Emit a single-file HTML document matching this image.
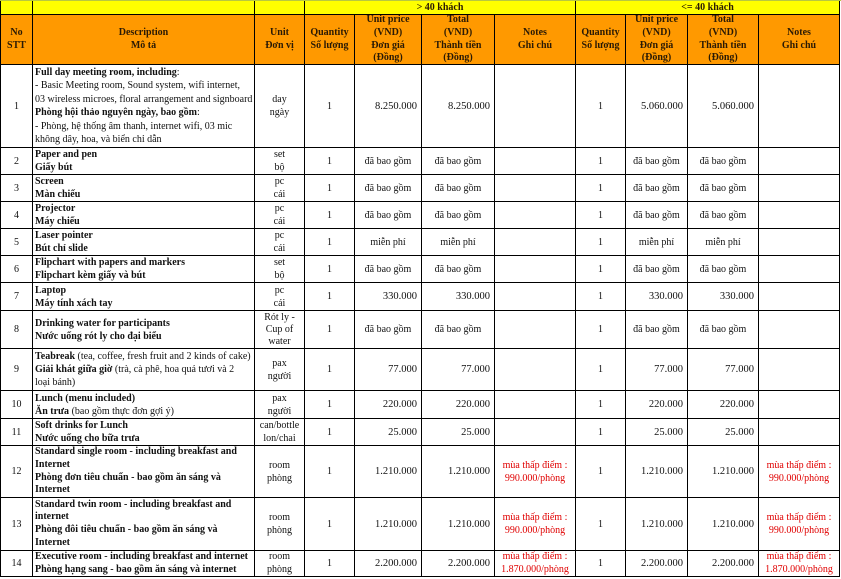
<!DOCTYPE html>
<html><head><meta charset="utf-8">
<style>
*{margin:0;padding:0;box-sizing:border-box}
html,body{width:841px;height:579px;background:#fff;overflow:hidden}
body{font-family:"Liberation Serif","Noto Serif CJK SC",serif;color:#111;font-size:10px}
.g{position:absolute;left:0;top:0;width:840px;height:577px;padding:1px;background:#000;display:grid;
grid-template-columns:31px 221px 49px 49px 66px 72px 80px 49px 61px 70px 80px;
grid-template-rows:13px 49px 82px 26px 26px 26px 26px 26px 27px 37px 41px 27px 26px 51px 52px 25px;gap:1px}
.g>div{background:#fff;overflow:hidden;display:flex;flex-direction:column;justify-content:center;line-height:13px;white-space:nowrap}
.y{background:#ffff00 !important;font-weight:bold;align-items:center;color:#2a1a05;line-height:12px !important}
.h{background:#ff9900 !important;font-weight:bold;align-items:center;text-align:center;color:#2a1a05;line-height:12.7px !important}
.c{align-items:center;text-align:center}
.r{align-items:flex-end;padding-right:4px;font-size:10.5px}
.d{padding-left:2px;align-items:flex-start}
.d b{font-weight:bold}
.n{color:#e00000;align-items:center;text-align:center}
.top{position:absolute;left:0;top:0;width:841px;height:1px;background:#b8c840}
</style></head><body>
<div class="g">
<div class="y"></div><div class="y"></div><div class="y"></div>
<div class="y" style="grid-column:span 4">&gt; 40 khách</div>
<div class="y" style="grid-column:span 4">&lt;= 40 khách</div>

<div class="h">No<br>STT</div>
<div class="h">Description<br>Mô tả</div>
<div class="h">Unit<br>Đơn vị</div>
<div class="h">Quantity<br>Số lượng</div>
<div class="h">Unit price<br>(VND)<br>Đơn giá<br>(Đồng)</div>
<div class="h">Total<br>(VND)<br>Thành tiền<br>(Đồng)</div>
<div class="h">Notes<br>Ghi chú</div>
<div class="h">Quantity<br>Số lượng</div>
<div class="h">Unit price<br>(VND)<br>Đơn giá<br>(Đồng)</div>
<div class="h">Total<br>(VND)<br>Thành tiền<br>(Đồng)</div>
<div class="h">Notes<br>Ghi chú</div>

<!-- 1 -->
<div class="c">1</div>
<div class="d" style="line-height:13.5px"><span><b>Full day meeting room, including</b>:<br>- Basic Meeting room, Sound system, wifi internet,<br>03 wireless microes, floral arrangement and signboard<br><b>Phòng hội thảo nguyên ngày, bao gồm</b>:<br>- Phòng, hệ thống âm thanh, internet wifi, 03 mic<br>không dây, hoa, và biển chỉ dẫn</span></div>
<div class="c">day<br>ngày</div>
<div class="c">1</div><div class="r">8.250.000</div><div class="r">8.250.000</div><div></div>
<div class="c">1</div><div class="r">5.060.000</div><div class="r">5.060.000</div><div></div>

<!-- 2 -->
<div class="c">2</div>
<div class="d"><b>Paper and pen<br>Giấy bút</b></div>
<div class="c">set<br>bộ</div>
<div class="c">1</div><div class="c">đã bao gồm</div><div class="c">đã bao gồm</div><div></div>
<div class="c">1</div><div class="c">đã bao gồm</div><div class="c">đã bao gồm</div><div></div>

<!-- 3 -->
<div class="c">3</div>
<div class="d"><b>Screen<br>Màn chiếu</b></div>
<div class="c">pc<br>cái</div>
<div class="c">1</div><div class="c">đã bao gồm</div><div class="c">đã bao gồm</div><div></div>
<div class="c">1</div><div class="c">đã bao gồm</div><div class="c">đã bao gồm</div><div></div>

<!-- 4 -->
<div class="c">4</div>
<div class="d"><b>Projector<br>Máy chiếu</b></div>
<div class="c">pc<br>cái</div>
<div class="c">1</div><div class="c">đã bao gồm</div><div class="c">đã bao gồm</div><div></div>
<div class="c">1</div><div class="c">đã bao gồm</div><div class="c">đã bao gồm</div><div></div>

<!-- 5 -->
<div class="c">5</div>
<div class="d"><b>Laser pointer<br>Bút chỉ slide</b></div>
<div class="c">pc<br>cái</div>
<div class="c">1</div><div class="c">miễn phí</div><div class="c">miễn phí</div><div></div>
<div class="c">1</div><div class="c">miễn phí</div><div class="c">miễn phí</div><div></div>

<!-- 6 -->
<div class="c">6</div>
<div class="d"><b>Flipchart with papers and markers<br>Flipchart kèm giấy và bút</b></div>
<div class="c">set<br>bộ</div>
<div class="c">1</div><div class="c">đã bao gồm</div><div class="c">đã bao gồm</div><div></div>
<div class="c">1</div><div class="c">đã bao gồm</div><div class="c">đã bao gồm</div><div></div>

<!-- 7 -->
<div class="c">7</div>
<div class="d"><b>Laptop<br>Máy tính xách tay</b></div>
<div class="c">pc<br>cái</div>
<div class="c">1</div><div class="r">330.000</div><div class="r">330.000</div><div></div>
<div class="c">1</div><div class="r">330.000</div><div class="r">330.000</div><div></div>

<!-- 8 -->
<div class="c">8</div>
<div class="d"><b>Drinking water for participants<br>Nước uống rót ly cho đại biểu</b></div>
<div class="c" style="line-height:12px">Rót ly -<br>Cup of<br>water</div>
<div class="c">1</div><div class="c">đã bao gồm</div><div class="c">đã bao gồm</div><div></div>
<div class="c">1</div><div class="c">đã bao gồm</div><div class="c">đã bao gồm</div><div></div>

<!-- 9 -->
<div class="c">9</div>
<div class="d"><span><b>Teabreak</b> (tea, coffee, fresh fruit and 2 kinds of cake)<br><b>Giải khát giữa giờ</b> (trà, cà phê, hoa quả tươi và 2<br>loại bánh)</span></div>
<div class="c">pax<br>người</div>
<div class="c">1</div><div class="r">77.000</div><div class="r">77.000</div><div></div>
<div class="c">1</div><div class="r">77.000</div><div class="r">77.000</div><div></div>

<!-- 10 -->
<div class="c">10</div>
<div class="d"><span><b>Lunch (menu included)</b><br><b>Ăn trưa</b> (bao gồm thực đơn gợi ý)</span></div>
<div class="c">pax<br>người</div>
<div class="c">1</div><div class="r">220.000</div><div class="r">220.000</div><div></div>
<div class="c">1</div><div class="r">220.000</div><div class="r">220.000</div><div></div>

<!-- 11 -->
<div class="c">11</div>
<div class="d"><b>Soft drinks for Lunch<br>Nước uống cho bữa trưa</b></div>
<div class="c">can/bottle<br>lon/chai</div>
<div class="c">1</div><div class="r">25.000</div><div class="r">25.000</div><div></div>
<div class="c">1</div><div class="r">25.000</div><div class="r">25.000</div><div></div>

<!-- 12 -->
<div class="c">12</div>
<div class="d" style="line-height:12.7px"><b>Standard single room - including breakfast and<br>Internet<br>Phòng đơn tiêu chuẩn - bao gồm ăn sáng và<br>Internet</b></div>
<div class="c">room<br>phòng</div>
<div class="c">1</div><div class="r">1.210.000</div><div class="r">1.210.000</div><div class="n">mùa thấp điểm :<br>990.000/phòng</div>
<div class="c">1</div><div class="r">1.210.000</div><div class="r">1.210.000</div><div class="n">mùa thấp điểm :<br>990.000/phòng</div>

<!-- 13 -->
<div class="c">13</div>
<div class="d" style="line-height:12.7px"><b>Standard twin room - including breakfast and<br>internet<br>Phòng đôi tiêu chuẩn - bao gồm ăn sáng và<br>Internet</b></div>
<div class="c">room<br>phòng</div>
<div class="c">1</div><div class="r">1.210.000</div><div class="r">1.210.000</div><div class="n">mùa thấp điểm :<br>990.000/phòng</div>
<div class="c">1</div><div class="r">1.210.000</div><div class="r">1.210.000</div><div class="n">mùa thấp điểm :<br>990.000/phòng</div>

<!-- 14 -->
<div class="c">14</div>
<div class="d" style="line-height:12.5px"><b>Executive room - including breakfast and internet<br>Phòng hạng sang - bao gồm ăn sáng và internet</b></div>
<div class="c" style="line-height:12.5px">room<br>phòng</div>
<div class="c">1</div><div class="r">2.200.000</div><div class="r">2.200.000</div><div class="n" style="line-height:12.5px">mùa thấp điểm :<br>1.870.000/phòng</div>
<div class="c">1</div><div class="r">2.200.000</div><div class="r">2.200.000</div><div class="n" style="line-height:12.5px">mùa thấp điểm :<br>1.870.000/phòng</div>
</div>
<div class="top"></div>
</body></html>
